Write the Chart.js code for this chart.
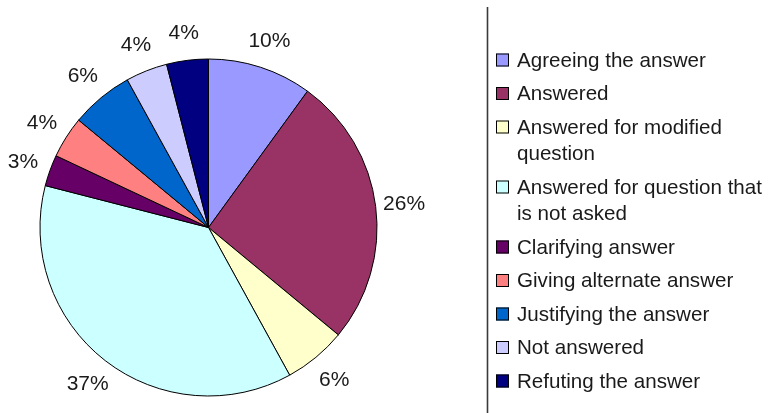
<!DOCTYPE html>
<html>
<head>
<meta charset="utf-8">
<script src="https://cdn.jsdelivr.net/npm/chart.js@4/dist/chart.umd.min.js"></script>
<style>
  html, body { margin: 0; padding: 0; background: #fff; }
  #wrap { width: 772px; height: 413px; }
</style>
</head>
<body>
<div id="wrap"><canvas id="chart" width="772" height="413"></canvas></div>
<script>
const categories = [
  "Agreeing the answer",
  "Answered",
  "Answered for modified question",
  "Answered for question that is not asked",
  "Clarifying answer",
  "Giving alternate answer",
  "Justifying the answer",
  "Not answered",
  "Refuting the answer"
];
const shares = [10, 26, 6, 37, 3, 4, 6, 4, 4];
const sliceColors = ["#9999FF", "#993366", "#FFFFCC", "#CCFFFF", "#660066", "#FF8080", "#0066CC", "#CCCCFF", "#000080"];

const FONT = '"Liberation Sans", Arial, sans-serif';

// percent labels just outside each slice
const sliceLabels = {
  id: "sliceLabels",
  afterDatasetsDraw(chart) {
    const ctx = chart.ctx;
    const arcs = chart.getDatasetMeta(0).data;
    ctx.save();
    ctx.font = "21px " + FONT;
    ctx.fillStyle = "#1a1a1a";
    ctx.textAlign = "center";
    ctx.textBaseline = "middle";
    arcs.forEach((arc, i) => {
      const mid = (arc.startAngle + arc.endAngle) / 2;
      const r = arc.outerRadius * 1.17;
      ctx.fillText(shares[i] + "%", arc.x + Math.cos(mid) * r, arc.y + Math.sin(mid) * r + 1);
    });
    ctx.restore();
  }
};

// legend on the right with wrapped labels and a divider line
const sideLegend = {
  id: "sideLegend",
  afterDraw(chart) {
    const ctx = chart.ctx;
    ctx.save();
    ctx.strokeStyle = "#3a3a3a";
    ctx.lineWidth = 1.6;
    ctx.beginPath();
    ctx.moveTo(487.5, 7);
    ctx.lineTo(487.5, 413);
    ctx.stroke();

    ctx.font = "20.6px " + FONT;
    ctx.textBaseline = "middle";
    ctx.textAlign = "left";
    const textX = 517, maxW = 255;
    let y = 60;
    categories.forEach((name, i) => {
      // wrap words to fit the column
      const lines = [];
      let cur = "";
      name.split(" ").forEach(w => {
        const test = cur ? cur + " " + w : w;
        if (ctx.measureText(test).width > maxW && cur) {
          lines.push(cur);
          cur = w;
        } else {
          cur = test;
        }
      });
      lines.push(cur);

      ctx.fillStyle = sliceColors[i];
      ctx.fillRect(496, y - 6.5, 13, 13);
      ctx.strokeStyle = "#000";
      ctx.lineWidth = 1;
      ctx.strokeRect(496.5, y - 6, 12, 12);

      ctx.fillStyle = "#1a1a1a";
      lines.forEach((ln, k) => ctx.fillText(ln, textX, y + k * 26.5 + 1));
      y += (lines.length - 1) * 26.5 + 33.5;
    });
    ctx.restore();
  }
};

new Chart(document.getElementById("chart"), {
  type: "pie",
  data: {
    labels: categories,
    datasets: [{
      data: shares,
      backgroundColor: sliceColors,
      borderColor: "#000",
      borderWidth: 1
    }]
  },
  options: {
    responsive: false,
    animation: false,
    radius: 168.5,
    layout: { padding: { left: 0, top: 42, right: 355, bottom: 0 } },
    plugins: {
      legend: { display: false },
      tooltip: { enabled: false }
    }
  },
  plugins: [sliceLabels, sideLegend]
});
</script>
</body>
</html>
